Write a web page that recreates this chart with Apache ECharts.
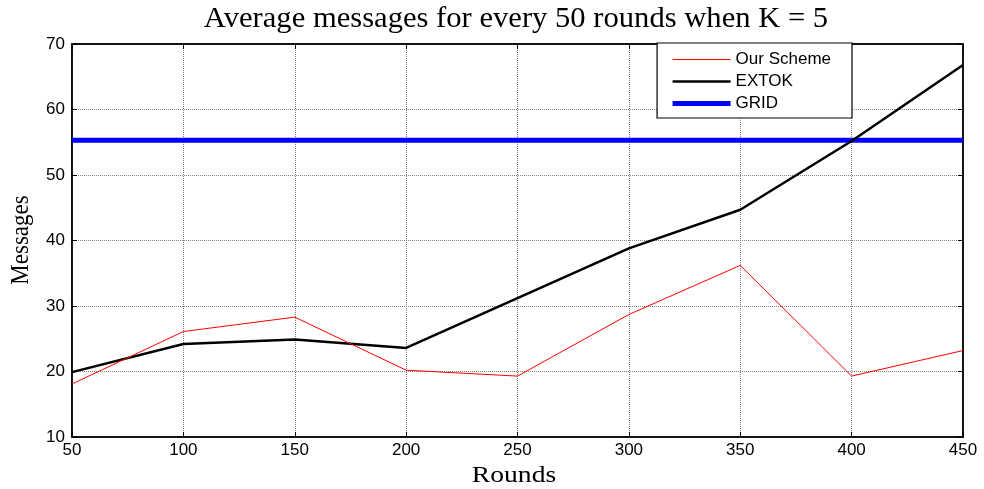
<!DOCTYPE html>
<html>
<head>
<meta charset="utf-8">
<style>
  html, body { margin: 0; padding: 0; background: #fff; }
  #chart { width: 984px; height: 489px; }
</style>
<script src="https://cdn.jsdelivr.net/npm/echarts@6/dist/echarts.min.js"></script>
</head>
<body>
<div id="chart"></div>
<script>
// Rounds (x) and average message counts per scheme
const rounds = [50, 100, 150, 200, 250, 300, 350, 400, 450];
const ourScheme = [18.1, 26.1, 28.3, 20.2, 19.3, 28.7, 36.2, 19.3, 23.2];
const extok = [19.9, 24.2, 24.9, 23.6, 31.2, 38.8, 44.7, 55.2, 66.8];
const gridScheme = [55.3, 55.3, 55.3, 55.3, 55.3, 55.3, 55.3, 55.3, 55.3];
const yTicks = [10, 20, 30, 40, 50, 60, 70];
const titleText = 'Average messages for every 50 rounds when K = 5';
const xName = 'Rounds';
const yName = 'Messages';

const toPairs = (vals) => rounds.map((r, i) => [r, vals[i]]);

const chart = echarts.init(document.getElementById('chart'), null, { renderer: 'canvas' });

const serif = 'Liberation Serif, Times New Roman, serif';
const sans = 'Liberation Sans, Arial, sans-serif';
const gridLine = { show: true, lineStyle: { color: '#808080', type: [1, 1], width: 1 } };
const axisFont = { fontFamily: sans, fontSize: 17, color: '#000' };
const frameLine = { show: true, lineStyle: { color: '#000', width: 1.5 } };
const innerTick = { show: true, inside: true, length: 5, lineStyle: { color: '#000' } };

chart.setOption({
  animation: false,
  backgroundColor: '#fff',
  grid: {
    left: 72, right: 21, top: 44, bottom: 52,
    outerBoundsMode: 'none', containLabel: false,
    show: true, borderColor: '#000', borderWidth: 1.5, backgroundColor: '#fff'
  },
  // Title and axis names; the x-axis name is drawn slightly wider than its natural width
  graphic: [
    {
      type: 'text', x: 516, y: 19.5, scaleX: 1.02,
      style: { text: titleText, font: '30px ' + serif, fill: '#000', align: 'center', verticalAlign: 'middle' }
    },
    {
      type: 'text', x: 514, y: 476, scaleX: 1.2,
      style: { text: xName, font: '23px ' + serif, fill: '#000', align: 'center', verticalAlign: 'middle' }
    },
    {
      type: 'text', x: 22, y: 240, rotation: Math.PI / 2, scaleY: 1.05,
      style: { text: yName, font: '23px ' + serif, fill: '#000', align: 'center', verticalAlign: 'middle' }
    }
  ],
  legend: {
    right: 132, top: 43,
    orient: 'vertical',
    backgroundColor: '#fff',
    borderColor: '#000', borderWidth: 1.2, borderRadius: 0,
    padding: [8, 21, 6, 13],
    itemGap: 5,
    itemWidth: 58, itemHeight: 14,
    itemStyle: { opacity: 0 },
    lineStyle: { width: 'inherit', color: 'inherit' },
    textStyle: { fontFamily: sans, fontSize: 17, color: '#000' },
    data: ['Our Scheme', 'EXTOK', 'GRID']
  },
  xAxis: [{
    type: 'value', min: 50, max: 450, interval: 50,
    axisLine: frameLine, axisTick: innerTick,
    axisLabel: Object.assign({ margin: 5 }, axisFont),
    splitLine: gridLine
  }, {
    type: 'value', min: 50, max: 450, interval: 50, position: 'top',
    axisLine: frameLine, axisTick: innerTick,
    axisLabel: { show: false }, splitLine: { show: false }
  }],
  yAxis: [{
    type: 'value', min: yTicks[0], max: yTicks[yTicks.length - 1], interval: 10,
    axisLine: frameLine, axisTick: innerTick,
    axisLabel: Object.assign({ margin: 7 }, axisFont),
    splitLine: gridLine
  }, {
    type: 'value', min: yTicks[0], max: yTicks[yTicks.length - 1], interval: 10, position: 'right',
    axisLine: frameLine, axisTick: innerTick,
    axisLabel: { show: false }, splitLine: { show: false }
  }],
  series: [
    {
      name: 'Our Scheme', type: 'line', data: toPairs(ourScheme),
      showSymbol: false, symbol: 'none', z: 4,
      lineStyle: { color: '#ff0000', width: 1 }, itemStyle: { color: '#ff0000' }
    },
    {
      name: 'EXTOK', type: 'line', data: toPairs(extok),
      showSymbol: false, symbol: 'none', z: 3,
      lineStyle: { color: '#000', width: 2.5 }, itemStyle: { color: '#000' }
    },
    {
      name: 'GRID', type: 'line', data: toPairs(gridScheme),
      showSymbol: false, symbol: 'none', z: 2,
      lineStyle: { color: '#0000ff', width: 5 }, itemStyle: { color: '#0000ff' }
    }
  ]
});
</script>
</body>
</html>
